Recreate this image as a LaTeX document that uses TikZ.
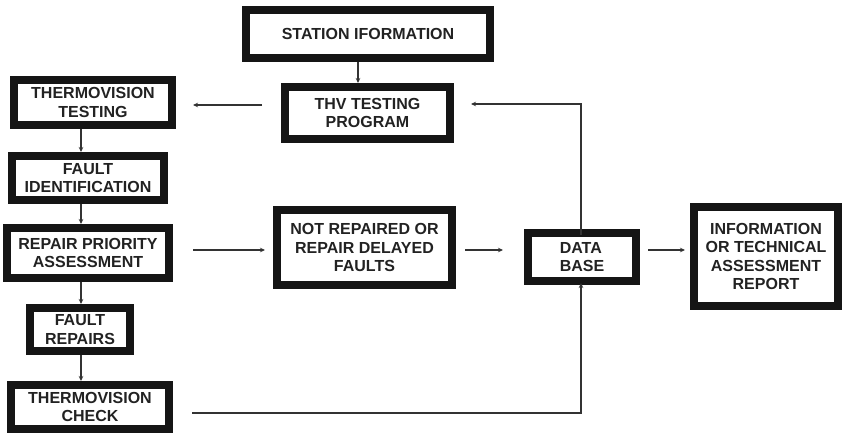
\documentclass[tikz,border=0pt]{standalone}
\usepackage{fontspec}
\setmainfont{Liberation Sans}
\usetikzlibrary{arrows.meta}
\definecolor{boxc}{HTML}{151515}
\definecolor{txtc}{HTML}{222222}
\definecolor{arrc}{HTML}{333333}
\tikzset{
  blk/.style={draw=boxc, line width=8pt, fill=white, inner sep=0pt, align=center,
    text=txtc, font=\bfseries\fontsize{16}{18.5}\selectfont},
  arr/.style={draw=arrc, line width=1.3pt, -{Stealth[length=5pt,width=4.5pt]}},
}
\begin{document}
\begin{tikzpicture}[x=1pt,y=-1pt]
\useasboundingbox (0,0) rectangle (843,434);
\node[blk, minimum width=244, minimum height=48] (station) at (368,34) {STATION IFORMATION};
\node[blk, minimum width=165, minimum height=52] (thv) at (367.5,113) {THV TESTING\\PROGRAM};
\node[blk, minimum width=158, minimum height=45] (thvtest) at (93,102.5) {THERMOVISION\\TESTING};
\node[blk, minimum width=152, minimum height=44] (faultid) at (88,178) {FAULT\\IDENTIFICATION};
\node[blk, minimum width=162, minimum height=50] (rpa) at (88,253) {REPAIR PRIORITY\\ASSESSMENT};
\node[blk, minimum width=100, minimum height=43] (repairs) at (80,329.5) {FAULT\\REPAIRS};
\node[blk, minimum width=158, minimum height=44] (check) at (90,407) {THERMOVISION\\CHECK};
\node[blk, minimum width=175, minimum height=75] (notrep) at (364.5,247.5) {NOT REPAIRED OR\\REPAIR DELAYED\\FAULTS};
\node[blk, minimum width=108, minimum height=48, align=left] (db) at (582,257) {DATA\\BASE};
\node[blk, minimum width=144, minimum height=99] (info) at (766,256.5) {INFORMATION\\OR TECHNICAL\\ASSESSMENT\\REPORT};

% coordinates for free arrow ends
\coordinate (a1) at (262,105);
\coordinate (a2) at (193,105);
\coordinate (b1) at (193,250);
\coordinate (b2) at (265,250);
\coordinate (c1) at (465,250);
\coordinate (c2) at (503,250);
\coordinate (d1) at (648,250);
\coordinate (d2) at (685,250);
\coordinate (e1) at (192,413);
\coordinate (e2) at (581,413);
\coordinate (f1) at (581,104);
\coordinate (f2) at (471,104);

\draw[arr] (station.south -| 358,0) -- (thv.north -| 358,0);
\draw[arr] (a1) -- (a2);
\draw[arr] (thvtest.south -| 81,0) -- (faultid.north -| 81,0);
\draw[arr] (faultid.south -| 81,0) -- (rpa.north -| 81,0);
\draw[arr] (rpa.south -| 81,0) -- (repairs.north -| 81,0);
\draw[arr] (repairs.south -| 81,0) -- (check.north -| 81,0);
\draw[arr] (b1) -- (b2);
\draw[arr] (c1) -- (c2);
\draw[arr] (d1) -- (d2);
\draw[arr] (e1) -- (e2) -- ([yshift=2pt]db.south -| e2);
\draw[arr] ([yshift=-6pt]db.north -| f1) -- (f1) -- (f2);
\end{tikzpicture}
\end{document}
